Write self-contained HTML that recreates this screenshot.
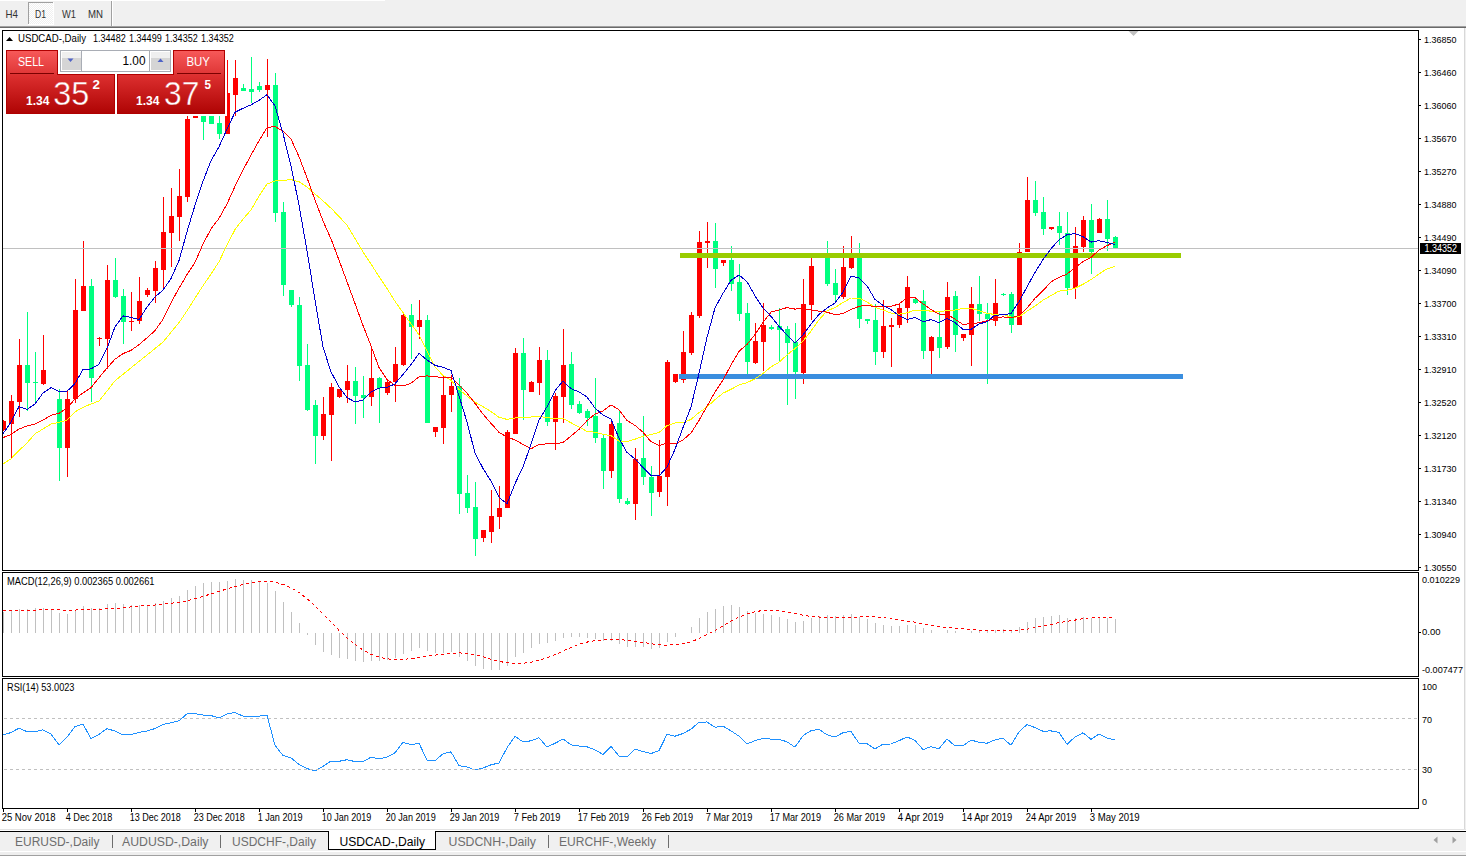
<!DOCTYPE html>
<html><head><meta charset="utf-8"><title>USDCAD Daily</title>
<style>html,body{margin:0;padding:0;background:#F0F0F0;width:1466px;height:858px;overflow:hidden;font-family:"Liberation Sans", sans-serif;}</style>
</head><body><svg width="1466" height="858" viewBox="0 0 1466 858" font-family='"Liberation Sans", sans-serif' style="display:block"><rect x="0" y="0" width="1466" height="858" fill="#F0F0F0" /><rect x="0" y="0" width="385" height="1" fill="#FFFFFF" /><defs><pattern id="chk" width="2" height="2" patternUnits="userSpaceOnUse"><rect width="2" height="2" fill="#F0F0F0"/><rect width="1" height="1" fill="#FFFFFF"/><rect x="1" y="1" width="1" height="1" fill="#FFFFFF"/></pattern><linearGradient id="sellTop" x1="0" y1="0" x2="0" y2="1"><stop offset="0" stop-color="#F85555"/><stop offset="1" stop-color="#E02A2A"/></linearGradient><linearGradient id="sellBot" x1="0" y1="0" x2="0" y2="1"><stop offset="0" stop-color="#DA2A2A"/><stop offset="1" stop-color="#B00000"/></linearGradient><linearGradient id="spin" x1="0" y1="0" x2="0" y2="1"><stop offset="0" stop-color="#F2F2F2"/><stop offset="0.5" stop-color="#E6E6E6"/><stop offset="0.5" stop-color="#D8D8D8"/><stop offset="1" stop-color="#CFCFCF"/></linearGradient></defs><rect x="28" y="2" width="26" height="23" fill="#FFFFFF" /><rect x="29" y="3" width="24" height="21" fill="url(#chk)" /><rect x="28" y="2" width="25" height="1" fill="#A0A0A0" /><rect x="28" y="2" width="1" height="22" fill="#A0A0A0" /><text x="5.5" y="18" font-size="10.2" fill="#333" textLength="12.5" lengthAdjust="spacingAndGlyphs" >H4</text><text x="35" y="18" font-size="10.2" fill="#333" textLength="11" lengthAdjust="spacingAndGlyphs" >D1</text><text x="62" y="18" font-size="10.2" fill="#333" textLength="14" lengthAdjust="spacingAndGlyphs" >W1</text><text x="88" y="18" font-size="10.2" fill="#333" textLength="15" lengthAdjust="spacingAndGlyphs" >MN</text><rect x="111" y="1" width="1" height="25" fill="#A0A0A0" /><rect x="112" y="1" width="1" height="25" fill="#FFFFFF" /><rect x="0" y="26" width="1466" height="1" fill="#A0A0A0" /><rect x="0" y="27" width="1466" height="1" fill="#696969" /><rect x="0" y="28" width="1464" height="801" fill="#FFFFFF" /><rect x="1464" y="28" width="1" height="801" fill="#D8D8D8" /><rect x="0" y="829" width="1466" height="1" fill="#E3E3E3" /><rect x="0" y="830" width="1466" height="1" fill="#FFFFFF" /><rect x="2" y="30" width="1417" height="1" fill="#000" /><rect x="2" y="570" width="1417" height="1" fill="#000" /><rect x="2" y="30" width="1" height="541" fill="#000" /><rect x="1418" y="30" width="1" height="541" fill="#000" /><rect x="2" y="572" width="1417" height="1" fill="#000" /><rect x="2" y="676" width="1417" height="1" fill="#000" /><rect x="2" y="572" width="1" height="105" fill="#000" /><rect x="1418" y="572" width="1" height="105" fill="#000" /><rect x="2" y="678" width="1417" height="1" fill="#000" /><rect x="2" y="808" width="1417" height="1" fill="#000" /><rect x="2" y="678" width="1" height="131" fill="#000" /><rect x="1418" y="678" width="1" height="131" fill="#000" /><rect x="1419" y="39" width="2" height="1" fill="#000" /><text x="1424" y="43" font-size="9.6" fill="#000" textLength="32.5" lengthAdjust="spacingAndGlyphs" >1.36850</text><rect x="1419" y="72" width="2" height="1" fill="#000" /><text x="1424" y="76" font-size="9.6" fill="#000" textLength="32.5" lengthAdjust="spacingAndGlyphs" >1.36460</text><rect x="1419" y="105" width="2" height="1" fill="#000" /><text x="1424" y="109" font-size="9.6" fill="#000" textLength="32.5" lengthAdjust="spacingAndGlyphs" >1.36060</text><rect x="1419" y="138" width="2" height="1" fill="#000" /><text x="1424" y="142" font-size="9.6" fill="#000" textLength="32.5" lengthAdjust="spacingAndGlyphs" >1.35670</text><rect x="1419" y="171" width="2" height="1" fill="#000" /><text x="1424" y="175" font-size="9.6" fill="#000" textLength="32.5" lengthAdjust="spacingAndGlyphs" >1.35270</text><rect x="1419" y="204" width="2" height="1" fill="#000" /><text x="1424" y="208" font-size="9.6" fill="#000" textLength="32.5" lengthAdjust="spacingAndGlyphs" >1.34880</text><rect x="1419" y="237" width="2" height="1" fill="#000" /><text x="1424" y="241" font-size="9.6" fill="#000" textLength="32.5" lengthAdjust="spacingAndGlyphs" >1.34490</text><rect x="1419" y="270" width="2" height="1" fill="#000" /><text x="1424" y="274" font-size="9.6" fill="#000" textLength="32.5" lengthAdjust="spacingAndGlyphs" >1.34090</text><rect x="1419" y="303" width="2" height="1" fill="#000" /><text x="1424" y="307" font-size="9.6" fill="#000" textLength="32.5" lengthAdjust="spacingAndGlyphs" >1.33700</text><rect x="1419" y="336" width="2" height="1" fill="#000" /><text x="1424" y="340" font-size="9.6" fill="#000" textLength="32.5" lengthAdjust="spacingAndGlyphs" >1.33310</text><rect x="1419" y="369" width="2" height="1" fill="#000" /><text x="1424" y="373" font-size="9.6" fill="#000" textLength="32.5" lengthAdjust="spacingAndGlyphs" >1.32910</text><rect x="1419" y="402" width="2" height="1" fill="#000" /><text x="1424" y="406" font-size="9.6" fill="#000" textLength="32.5" lengthAdjust="spacingAndGlyphs" >1.32520</text><rect x="1419" y="435" width="2" height="1" fill="#000" /><text x="1424" y="439" font-size="9.6" fill="#000" textLength="32.5" lengthAdjust="spacingAndGlyphs" >1.32120</text><rect x="1419" y="468" width="2" height="1" fill="#000" /><text x="1424" y="472" font-size="9.6" fill="#000" textLength="32.5" lengthAdjust="spacingAndGlyphs" >1.31730</text><rect x="1419" y="501" width="2" height="1" fill="#000" /><text x="1424" y="505" font-size="9.6" fill="#000" textLength="32.5" lengthAdjust="spacingAndGlyphs" >1.31340</text><rect x="1419" y="534" width="2" height="1" fill="#000" /><text x="1424" y="538" font-size="9.6" fill="#000" textLength="32.5" lengthAdjust="spacingAndGlyphs" >1.30940</text><rect x="1419" y="567" width="2" height="1" fill="#000" /><text x="1424" y="571" font-size="9.6" fill="#000" textLength="32.5" lengthAdjust="spacingAndGlyphs" >1.30550</text><defs><clipPath id="cmain"><rect x="3" y="31" width="1415" height="539"/></clipPath><clipPath id="cmacd"><rect x="3" y="573" width="1415" height="103"/></clipPath><clipPath id="crsi"><rect x="3" y="679" width="1415" height="129"/></clipPath></defs><g clip-path="url(#cmain)"><g shape-rendering="crispEdges"><rect x="3" y="420" width="1" height="11" fill="#FF0000" /><rect x="1" y="421" width="5" height="9" fill="#FF0000" /><rect x="11" y="395" width="1" height="63" fill="#FF0000" /><rect x="9" y="401" width="5" height="23" fill="#FF0000" /><rect x="19" y="339" width="1" height="78" fill="#FF0000" /><rect x="17" y="365" width="5" height="37" fill="#FF0000" /><rect x="27" y="312" width="1" height="99" fill="#00FF7F" /><rect x="25" y="365" width="5" height="18" fill="#00FF7F" /><rect x="35" y="352" width="1" height="50" fill="#00FF7F" /><rect x="33" y="382" width="5" height="1" fill="#00FF7F" /><rect x="43" y="335" width="1" height="50" fill="#FF0000" /><rect x="41" y="370" width="5" height="14" fill="#FF0000" /><rect x="59" y="389" width="1" height="92" fill="#00FF7F" /><rect x="57" y="399" width="5" height="49" fill="#00FF7F" /><rect x="67" y="391" width="1" height="86" fill="#FF0000" /><rect x="65" y="399" width="5" height="49" fill="#FF0000" /><rect x="75" y="279" width="1" height="124" fill="#FF0000" /><rect x="73" y="310" width="5" height="89" fill="#FF0000" /><rect x="83" y="241" width="1" height="70" fill="#FF0000" /><rect x="81" y="286" width="5" height="25" fill="#FF0000" /><rect x="91" y="279" width="1" height="123" fill="#00FF7F" /><rect x="89" y="286" width="5" height="92" fill="#00FF7F" /><rect x="99" y="337" width="1" height="9" fill="#FF0000" /><rect x="97" y="338" width="5" height="1" fill="#FF0000" /><rect x="107" y="265" width="1" height="104" fill="#FF0000" /><rect x="105" y="280" width="5" height="59" fill="#FF0000" /><rect x="115" y="258" width="1" height="40" fill="#00FF7F" /><rect x="113" y="280" width="5" height="17" fill="#00FF7F" /><rect x="123" y="289" width="1" height="55" fill="#00FF7F" /><rect x="121" y="296" width="5" height="26" fill="#00FF7F" /><rect x="131" y="292" width="1" height="39" fill="#FF0000" /><rect x="129" y="321" width="5" height="1" fill="#FF0000" /><rect x="139" y="277" width="1" height="47" fill="#FF0000" /><rect x="137" y="301" width="5" height="20" fill="#FF0000" /><rect x="147" y="288" width="1" height="9" fill="#FF0000" /><rect x="145" y="290" width="5" height="5" fill="#FF0000" /><rect x="155" y="261" width="1" height="42" fill="#FF0000" /><rect x="153" y="268" width="5" height="23" fill="#FF0000" /><rect x="163" y="197" width="1" height="91" fill="#FF0000" /><rect x="161" y="232" width="5" height="38" fill="#FF0000" /><rect x="171" y="188" width="1" height="79" fill="#FF0000" /><rect x="169" y="216" width="5" height="17" fill="#FF0000" /><rect x="179" y="169" width="1" height="72" fill="#FF0000" /><rect x="177" y="196" width="5" height="21" fill="#FF0000" /><rect x="187" y="116" width="1" height="86" fill="#FF0000" /><rect x="185" y="119" width="5" height="78" fill="#FF0000" /><rect x="195" y="110" width="1" height="8" fill="#FF0000" /><rect x="193" y="116" width="5" height="2" fill="#FF0000" /><rect x="203" y="105" width="1" height="35" fill="#00FF7F" /><rect x="201" y="116" width="5" height="6" fill="#00FF7F" /><rect x="211" y="105" width="1" height="19" fill="#00FF7F" /><rect x="209" y="116" width="5" height="8" fill="#00FF7F" /><rect x="219" y="116" width="1" height="23" fill="#00FF7F" /><rect x="217" y="123" width="5" height="11" fill="#00FF7F" /><rect x="227" y="60" width="1" height="74" fill="#FF0000" /><rect x="225" y="93" width="5" height="41" fill="#FF0000" /><rect x="235" y="60" width="1" height="56" fill="#FF0000" /><rect x="233" y="78" width="5" height="17" fill="#FF0000" /><rect x="243" y="84" width="1" height="7" fill="#00FF7F" /><rect x="241" y="88" width="5" height="3" fill="#00FF7F" /><rect x="251" y="57" width="1" height="46" fill="#00FF7F" /><rect x="249" y="89" width="5" height="3" fill="#00FF7F" /><rect x="259" y="82" width="1" height="10" fill="#00FF7F" /><rect x="257" y="86" width="5" height="4" fill="#00FF7F" /><rect x="267" y="59" width="1" height="78" fill="#FF0000" /><rect x="265" y="85" width="5" height="5" fill="#FF0000" /><rect x="275" y="73" width="1" height="149" fill="#00FF7F" /><rect x="273" y="85" width="5" height="128" fill="#00FF7F" /><rect x="283" y="202" width="1" height="94" fill="#00FF7F" /><rect x="281" y="212" width="5" height="73" fill="#00FF7F" /><rect x="291" y="290" width="1" height="17" fill="#00FF7F" /><rect x="289" y="290" width="5" height="15" fill="#00FF7F" /><rect x="299" y="297" width="1" height="84" fill="#00FF7F" /><rect x="297" y="305" width="5" height="61" fill="#00FF7F" /><rect x="307" y="344" width="1" height="67" fill="#00FF7F" /><rect x="305" y="365" width="5" height="45" fill="#00FF7F" /><rect x="315" y="400" width="1" height="64" fill="#00FF7F" /><rect x="313" y="405" width="5" height="31" fill="#00FF7F" /><rect x="323" y="397" width="1" height="43" fill="#FF0000" /><rect x="321" y="414" width="5" height="22" fill="#FF0000" /><rect x="331" y="383" width="1" height="78" fill="#FF0000" /><rect x="329" y="387" width="5" height="28" fill="#FF0000" /><rect x="339" y="389" width="1" height="9" fill="#FF0000" /><rect x="337" y="389" width="5" height="8" fill="#FF0000" /><rect x="347" y="365" width="1" height="38" fill="#FF0000" /><rect x="345" y="381" width="5" height="9" fill="#FF0000" /><rect x="355" y="367" width="1" height="57" fill="#00FF7F" /><rect x="353" y="381" width="5" height="15" fill="#00FF7F" /><rect x="363" y="376" width="1" height="42" fill="#00FF7F" /><rect x="361" y="395" width="5" height="3" fill="#00FF7F" /><rect x="371" y="346" width="1" height="60" fill="#FF0000" /><rect x="369" y="378" width="5" height="19" fill="#FF0000" /><rect x="379" y="377" width="1" height="46" fill="#00FF7F" /><rect x="377" y="378" width="5" height="10" fill="#00FF7F" /><rect x="387" y="381" width="1" height="14" fill="#FF0000" /><rect x="385" y="382" width="5" height="11" fill="#FF0000" /><rect x="395" y="347" width="1" height="55" fill="#FF0000" /><rect x="393" y="364" width="5" height="18" fill="#FF0000" /><rect x="403" y="312" width="1" height="54" fill="#FF0000" /><rect x="401" y="315" width="5" height="50" fill="#FF0000" /><rect x="411" y="304" width="1" height="55" fill="#00FF7F" /><rect x="409" y="315" width="5" height="12" fill="#00FF7F" /><rect x="419" y="300" width="1" height="39" fill="#FF0000" /><rect x="417" y="320" width="5" height="7" fill="#FF0000" /><rect x="427" y="315" width="1" height="108" fill="#00FF7F" /><rect x="425" y="320" width="5" height="103" fill="#00FF7F" /><rect x="435" y="427" width="1" height="10" fill="#FF0000" /><rect x="433" y="427" width="5" height="5" fill="#FF0000" /><rect x="443" y="375" width="1" height="69" fill="#FF0000" /><rect x="441" y="395" width="5" height="33" fill="#FF0000" /><rect x="451" y="375" width="1" height="37" fill="#FF0000" /><rect x="449" y="386" width="5" height="9" fill="#FF0000" /><rect x="459" y="378" width="1" height="136" fill="#00FF7F" /><rect x="457" y="386" width="5" height="108" fill="#00FF7F" /><rect x="467" y="475" width="1" height="38" fill="#00FF7F" /><rect x="465" y="493" width="5" height="15" fill="#00FF7F" /><rect x="475" y="482" width="1" height="74" fill="#00FF7F" /><rect x="473" y="507" width="5" height="32" fill="#00FF7F" /><rect x="483" y="530" width="1" height="12" fill="#FF0000" /><rect x="481" y="530" width="5" height="8" fill="#FF0000" /><rect x="491" y="490" width="1" height="53" fill="#FF0000" /><rect x="489" y="516" width="5" height="16" fill="#FF0000" /><rect x="499" y="486" width="1" height="43" fill="#FF0000" /><rect x="497" y="508" width="5" height="9" fill="#FF0000" /><rect x="507" y="430" width="1" height="78" fill="#FF0000" /><rect x="505" y="432" width="5" height="76" fill="#FF0000" /><rect x="515" y="348" width="1" height="86" fill="#FF0000" /><rect x="513" y="353" width="5" height="81" fill="#FF0000" /><rect x="523" y="338" width="1" height="82" fill="#00FF7F" /><rect x="521" y="353" width="5" height="37" fill="#00FF7F" /><rect x="531" y="381" width="1" height="11" fill="#FF0000" /><rect x="529" y="382" width="5" height="10" fill="#FF0000" /><rect x="539" y="347" width="1" height="48" fill="#FF0000" /><rect x="537" y="360" width="5" height="23" fill="#FF0000" /><rect x="547" y="350" width="1" height="76" fill="#00FF7F" /><rect x="545" y="360" width="5" height="62" fill="#00FF7F" /><rect x="555" y="393" width="1" height="57" fill="#FF0000" /><rect x="553" y="396" width="5" height="26" fill="#FF0000" /><rect x="563" y="329" width="1" height="94" fill="#FF0000" /><rect x="561" y="365" width="5" height="32" fill="#FF0000" /><rect x="571" y="352" width="1" height="57" fill="#00FF7F" /><rect x="569" y="364" width="5" height="41" fill="#00FF7F" /><rect x="579" y="401" width="1" height="13" fill="#00FF7F" /><rect x="577" y="404" width="5" height="9" fill="#00FF7F" /><rect x="587" y="409" width="1" height="17" fill="#00FF7F" /><rect x="585" y="411" width="5" height="7" fill="#00FF7F" /><rect x="595" y="378" width="1" height="65" fill="#00FF7F" /><rect x="593" y="416" width="5" height="22" fill="#00FF7F" /><rect x="603" y="435" width="1" height="54" fill="#00FF7F" /><rect x="601" y="438" width="5" height="33" fill="#00FF7F" /><rect x="611" y="419" width="1" height="59" fill="#FF0000" /><rect x="609" y="424" width="5" height="47" fill="#FF0000" /><rect x="619" y="411" width="1" height="92" fill="#00FF7F" /><rect x="617" y="423" width="5" height="76" fill="#00FF7F" /><rect x="627" y="498" width="1" height="7" fill="#00FF7F" /><rect x="625" y="501" width="5" height="3" fill="#00FF7F" /><rect x="635" y="448" width="1" height="72" fill="#FF0000" /><rect x="633" y="459" width="5" height="45" fill="#FF0000" /><rect x="643" y="416" width="1" height="69" fill="#00FF7F" /><rect x="641" y="458" width="5" height="19" fill="#00FF7F" /><rect x="651" y="466" width="1" height="50" fill="#00FF7F" /><rect x="649" y="477" width="5" height="16" fill="#00FF7F" /><rect x="659" y="440" width="1" height="57" fill="#FF0000" /><rect x="657" y="476" width="5" height="16" fill="#FF0000" /><rect x="667" y="360" width="1" height="146" fill="#FF0000" /><rect x="665" y="362" width="5" height="115" fill="#FF0000" /><rect x="675" y="374" width="1" height="9" fill="#FF0000" /><rect x="673" y="374" width="5" height="8" fill="#FF0000" /><rect x="683" y="331" width="1" height="52" fill="#FF0000" /><rect x="681" y="352" width="5" height="28" fill="#FF0000" /><rect x="691" y="312" width="1" height="43" fill="#FF0000" /><rect x="689" y="315" width="5" height="38" fill="#FF0000" /><rect x="699" y="231" width="1" height="87" fill="#FF0000" /><rect x="697" y="242" width="5" height="74" fill="#FF0000" /><rect x="707" y="222" width="1" height="46" fill="#FF0000" /><rect x="705" y="241" width="5" height="2" fill="#FF0000" /><rect x="715" y="223" width="1" height="65" fill="#00FF7F" /><rect x="713" y="241" width="5" height="28" fill="#00FF7F" /><rect x="723" y="260" width="1" height="6" fill="#FF0000" /><rect x="721" y="260" width="5" height="3" fill="#FF0000" /><rect x="731" y="246" width="1" height="45" fill="#00FF7F" /><rect x="729" y="260" width="5" height="24" fill="#00FF7F" /><rect x="739" y="264" width="1" height="57" fill="#00FF7F" /><rect x="737" y="282" width="5" height="32" fill="#00FF7F" /><rect x="747" y="303" width="1" height="73" fill="#00FF7F" /><rect x="745" y="313" width="5" height="49" fill="#00FF7F" /><rect x="755" y="323" width="1" height="41" fill="#FF0000" /><rect x="753" y="341" width="5" height="22" fill="#FF0000" /><rect x="763" y="303" width="1" height="68" fill="#FF0000" /><rect x="761" y="325" width="5" height="17" fill="#FF0000" /><rect x="771" y="325" width="1" height="5" fill="#00FF7F" /><rect x="769" y="327" width="5" height="2" fill="#00FF7F" /><rect x="779" y="308" width="1" height="53" fill="#00FF7F" /><rect x="777" y="326" width="5" height="4" fill="#00FF7F" /><rect x="787" y="326" width="1" height="79" fill="#00FF7F" /><rect x="785" y="329" width="5" height="14" fill="#00FF7F" /><rect x="795" y="323" width="1" height="76" fill="#00FF7F" /><rect x="793" y="342" width="5" height="30" fill="#00FF7F" /><rect x="803" y="279" width="1" height="105" fill="#FF0000" /><rect x="801" y="304" width="5" height="69" fill="#FF0000" /><rect x="811" y="258" width="1" height="62" fill="#FF0000" /><rect x="809" y="266" width="5" height="39" fill="#FF0000" /><rect x="819" y="255" width="1" height="3" fill="#00FF7F" /><rect x="817" y="256" width="5" height="1" fill="#00FF7F" /><rect x="827" y="241" width="1" height="45" fill="#00FF7F" /><rect x="825" y="258" width="5" height="26" fill="#00FF7F" /><rect x="835" y="269" width="1" height="32" fill="#00FF7F" /><rect x="833" y="283" width="5" height="12" fill="#00FF7F" /><rect x="843" y="246" width="1" height="53" fill="#FF0000" /><rect x="841" y="267" width="5" height="30" fill="#FF0000" /><rect x="851" y="236" width="1" height="33" fill="#FF0000" /><rect x="849" y="258" width="5" height="10" fill="#FF0000" /><rect x="859" y="243" width="1" height="85" fill="#00FF7F" /><rect x="857" y="258" width="5" height="61" fill="#00FF7F" /><rect x="867" y="319" width="1" height="5" fill="#00FF7F" /><rect x="865" y="319" width="5" height="2" fill="#00FF7F" /><rect x="875" y="304" width="1" height="61" fill="#00FF7F" /><rect x="873" y="320" width="5" height="32" fill="#00FF7F" /><rect x="883" y="300" width="1" height="58" fill="#FF0000" /><rect x="881" y="326" width="5" height="26" fill="#FF0000" /><rect x="891" y="318" width="1" height="49" fill="#FF0000" /><rect x="889" y="325" width="5" height="2" fill="#FF0000" /><rect x="899" y="304" width="1" height="24" fill="#FF0000" /><rect x="897" y="308" width="5" height="17" fill="#FF0000" /><rect x="907" y="276" width="1" height="47" fill="#FF0000" /><rect x="905" y="287" width="5" height="21" fill="#FF0000" /><rect x="915" y="297" width="1" height="7" fill="#00FF7F" /><rect x="913" y="299" width="5" height="4" fill="#00FF7F" /><rect x="923" y="290" width="1" height="69" fill="#00FF7F" /><rect x="921" y="301" width="5" height="50" fill="#00FF7F" /><rect x="931" y="336" width="1" height="38" fill="#FF0000" /><rect x="929" y="337" width="5" height="14" fill="#FF0000" /><rect x="939" y="312" width="1" height="46" fill="#00FF7F" /><rect x="937" y="337" width="5" height="11" fill="#00FF7F" /><rect x="947" y="282" width="1" height="67" fill="#FF0000" /><rect x="945" y="297" width="5" height="50" fill="#FF0000" /><rect x="955" y="291" width="1" height="61" fill="#00FF7F" /><rect x="953" y="296" width="5" height="39" fill="#00FF7F" /><rect x="963" y="334" width="1" height="7" fill="#FF0000" /><rect x="961" y="334" width="5" height="4" fill="#FF0000" /><rect x="971" y="287" width="1" height="79" fill="#FF0000" /><rect x="969" y="304" width="5" height="31" fill="#FF0000" /><rect x="979" y="276" width="1" height="45" fill="#00FF7F" /><rect x="977" y="304" width="5" height="10" fill="#00FF7F" /><rect x="987" y="303" width="1" height="81" fill="#00FF7F" /><rect x="985" y="314" width="5" height="5" fill="#00FF7F" /><rect x="995" y="279" width="1" height="47" fill="#FF0000" /><rect x="993" y="303" width="5" height="18" fill="#FF0000" /><rect x="1003" y="293" width="1" height="3" fill="#00FF7F" /><rect x="1001" y="294" width="5" height="1" fill="#00FF7F" /><rect x="1011" y="292" width="1" height="41" fill="#00FF7F" /><rect x="1009" y="294" width="5" height="31" fill="#00FF7F" /><rect x="1019" y="243" width="1" height="82" fill="#FF0000" /><rect x="1017" y="252" width="5" height="73" fill="#FF0000" /><rect x="1027" y="177" width="1" height="75" fill="#FF0000" /><rect x="1025" y="200" width="5" height="52" fill="#FF0000" /><rect x="1035" y="181" width="1" height="35" fill="#00FF7F" /><rect x="1033" y="200" width="5" height="13" fill="#00FF7F" /><rect x="1043" y="197" width="1" height="38" fill="#00FF7F" /><rect x="1041" y="212" width="5" height="17" fill="#00FF7F" /><rect x="1051" y="227" width="1" height="3" fill="#FF0000" /><rect x="1049" y="227" width="5" height="2" fill="#FF0000" /><rect x="1059" y="212" width="1" height="33" fill="#00FF7F" /><rect x="1057" y="226" width="5" height="7" fill="#00FF7F" /><rect x="1067" y="212" width="1" height="83" fill="#00FF7F" /><rect x="1065" y="233" width="5" height="55" fill="#00FF7F" /><rect x="1075" y="227" width="1" height="72" fill="#FF0000" /><rect x="1073" y="246" width="5" height="42" fill="#FF0000" /><rect x="1083" y="216" width="1" height="36" fill="#FF0000" /><rect x="1081" y="220" width="5" height="27" fill="#FF0000" /><rect x="1091" y="204" width="1" height="70" fill="#00FF7F" /><rect x="1089" y="220" width="5" height="32" fill="#00FF7F" /><rect x="1099" y="218" width="1" height="15" fill="#FF0000" /><rect x="1097" y="219" width="5" height="14" fill="#FF0000" /><rect x="1107" y="200" width="1" height="51" fill="#00FF7F" /><rect x="1105" y="219" width="5" height="20" fill="#00FF7F" /><rect x="1115" y="236" width="1" height="13" fill="#00FF7F" /><rect x="1113" y="237" width="5" height="12" fill="#00FF7F" /></g><rect x="3" y="248" width="1415" height="1" fill="#C0C0C0" /><rect x="680" y="253" width="501" height="5" fill="#99CC00" /><rect x="679" y="374" width="504" height="5" fill="#3A8EDF" /><polyline points="3,464.0 11,458.8 19,450.5 27,443.0 35,433.8 43,429.0 51,424.0 59,422.4 67,420.0 75,411.8 83,407.3 91,404.0 99,401.0 107,391.0 115,380.8 123,374.3 131,367.9 139,361.4 147,355.0 155,348.5 163,342.1 171,332.3 179,322.6 187,310.9 195,298.1 203,285.7 211,274.0 219,261.8 227,244.9 235,229.6 243,219.1 251,209.9 259,196.2 267,184.1 275,181.0 283,180.4 291,179.6 299,181.7 307,186.9 315,193.9 323,200.8 331,208.2 339,216.4 347,225.2 355,238.4 363,251.9 371,264.0 379,276.6 387,288.4 395,301.3 403,312.6 411,323.9 419,334.7 427,350.6 435,366.9 443,375.5 451,380.3 459,389.3 467,396.1 475,402.2 483,406.7 491,411.6 499,417.3 507,419.4 515,418.0 523,417.8 531,417.0 539,416.1 547,417.8 555,418.4 563,418.5 571,422.8 579,426.9 587,431.5 595,432.2 603,434.3 611,435.7 619,441.1 627,441.6 635,439.2 643,436.3 651,434.5 659,432.6 667,425.7 675,422.9 683,422.9 691,419.3 699,412.6 707,407.0 715,399.7 723,393.2 731,389.3 739,385.0 747,382.6 755,378.9 763,373.5 771,366.8 779,362.3 787,354.9 795,348.6 803,341.2 811,331.1 819,319.9 827,310.8 835,307.6 843,302.5 851,298.0 859,298.2 867,302.0 875,307.2 883,310.0 891,313.0 899,314.2 907,312.9 915,310.1 923,310.6 931,311.1 939,312.0 947,310.5 955,310.1 963,308.3 971,308.3 979,310.6 987,313.5 995,314.4 1003,314.4 1011,317.2 1019,316.9 1027,311.2 1035,306.1 1043,300.2 1051,295.5 1059,291.1 1067,290.2 1075,288.2 1083,284.3 1091,279.6 1099,274.0 1107,268.8 1115,266.5" fill="none" stroke="#FFFF00" stroke-width="1" shape-rendering="crispEdges"/><polyline points="3,437.6 11,434.5 19,429.0 27,426.0 35,424.0 43,420.0 51,415.3 59,413.3 67,408.0 75,399.0 83,393.0 91,387.6 99,377.7 107,368.1 115,359.2 123,353.6 131,350.4 139,344.6 147,337.9 155,330.6 163,319.3 171,302.7 179,288.2 187,274.6 195,262.4 203,244.1 211,228.9 219,218.4 227,203.9 235,186.4 243,170.0 251,155.1 259,140.8 267,127.7 275,126.4 283,131.3 291,139.1 299,156.7 307,177.7 315,200.1 323,220.9 331,238.9 339,260.1 347,281.7 355,303.5 363,325.4 371,345.9 379,367.6 387,379.6 395,385.3 403,386.0 411,383.2 419,376.8 427,375.9 435,376.8 443,377.4 451,377.1 459,385.2 467,393.2 475,403.3 483,414.1 491,423.3 499,432.3 507,437.1 515,439.9 523,444.4 531,448.8 539,444.3 547,443.9 555,444.0 563,442.5 571,436.1 579,429.4 587,420.7 595,414.1 603,410.9 611,404.9 619,409.7 627,420.5 635,425.4 643,432.2 651,441.7 659,445.6 667,443.1 675,443.8 683,440.0 691,433.0 699,420.4 707,406.4 715,391.9 723,380.2 731,364.9 739,351.3 747,344.4 755,334.6 763,322.6 771,312.1 779,309.9 787,307.6 795,309.1 803,308.3 811,310.0 819,311.1 827,312.2 835,314.7 843,313.5 851,309.5 859,306.4 867,305.0 875,306.9 883,306.7 891,306.4 899,303.9 907,297.8 915,297.7 923,303.8 931,309.5 939,314.1 947,314.2 955,319.1 963,324.5 971,323.4 979,322.9 987,320.6 995,318.9 1003,316.8 1011,318.0 1019,315.5 1027,308.1 1035,298.3 1043,290.6 1051,281.9 1059,277.4 1067,274.0 1075,267.7 1083,261.7 1091,257.3 1099,250.1 1107,245.6 1115,242.3" fill="none" stroke="#FF0000" stroke-width="1" shape-rendering="crispEdges"/><polyline points="3,433.8 11,422.0 19,406.5 27,409.5 35,404.0 43,393.0 51,387.7 59,391.6 67,391.3 75,383.4 83,369.6 91,368.9 99,364.3 107,348.4 115,326.9 123,315.9 131,317.4 139,319.6 147,307.0 155,297.0 163,290.1 171,278.6 179,260.6 187,231.7 195,205.3 203,181.3 211,160.7 219,146.7 227,129.1 235,112.3 243,108.3 251,104.9 259,100.3 267,94.7 275,106.0 283,133.4 291,165.9 299,205.1 307,250.6 315,300.0 323,347.0 331,371.9 339,386.7 347,397.6 355,401.9 363,400.1 371,391.9 379,388.1 387,387.4 395,383.9 403,374.4 411,364.6 419,353.4 427,359.9 435,365.4 443,367.3 451,370.4 459,396.0 467,421.9 475,453.1 483,468.4 491,481.1 499,497.3 507,503.9 515,483.7 523,466.9 531,444.4 539,420.1 547,406.7 555,390.7 563,381.1 571,388.6 579,391.9 587,397.0 595,408.1 603,415.1 611,419.1 619,438.3 627,452.4 635,459.0 643,467.4 651,475.3 659,476.0 667,467.1 675,449.3 683,427.6 691,407.0 699,373.4 707,337.4 715,307.9 723,293.3 731,280.4 739,275.0 747,281.7 755,295.9 763,307.9 771,316.4 779,326.4 787,334.9 795,343.1 803,334.9 811,324.1 819,314.4 827,308.0 835,303.0 843,292.1 851,275.9 859,278.0 867,285.9 875,299.4 883,305.4 891,309.7 899,315.6 907,319.7 915,317.4 923,321.7 931,319.6 939,322.7 947,318.7 955,322.6 963,329.3 971,329.4 979,324.1 987,321.6 995,315.1 1003,314.9 1011,313.4 1019,301.7 1027,286.9 1035,272.4 1043,259.6 1051,248.7 1059,239.9 1067,234.6 1075,233.7 1083,236.6 1091,242.1 1099,240.7 1107,242.4 1115,244.7" fill="none" stroke="#0000CD" stroke-width="1" shape-rendering="crispEdges"/></g><rect x="1420" y="243" width="41" height="11" fill="#000" /><text x="1424.5" y="252" font-size="10" fill="#FFF" textLength="32.5" lengthAdjust="spacingAndGlyphs" >1.34352</text><polygon points="1128.5,31 1138.5,31 1133.5,36" fill="#C0C0C0"/><polygon points="6,41 13,41 9.5,37" fill="#000"/><text x="18" y="42" font-size="10.2" fill="#000" textLength="68" lengthAdjust="spacingAndGlyphs" >USDCAD-,Daily</text><text x="93.0" y="42" font-size="10.2" fill="#000" textLength="32.7" lengthAdjust="spacingAndGlyphs" >1.34482</text><text x="129.03" y="42" font-size="10.2" fill="#000" textLength="32.7" lengthAdjust="spacingAndGlyphs" >1.34499</text><text x="165.06" y="42" font-size="10.2" fill="#000" textLength="32.7" lengthAdjust="spacingAndGlyphs" >1.34352</text><text x="201.09" y="42" font-size="10.2" fill="#000" textLength="32.7" lengthAdjust="spacingAndGlyphs" >1.34352</text><defs><linearGradient id="pgrad" gradientUnits="userSpaceOnUse" x1="0" y1="50" x2="0" y2="114"><stop offset="0" stop-color="#F85A5A"/><stop offset="0.36" stop-color="#E03838"/><stop offset="0.40" stop-color="#DC2F2F"/><stop offset="1" stop-color="#AE0303"/></linearGradient></defs><rect x="4" y="48" width="223" height="68" fill="#FFFFFF" /><g shape-rendering="crispEdges"><path d="M6,50 H58 V74 H115 V114 H6 Z" fill="url(#pgrad)"/><rect x="6" y="50" width="52" height="1" fill="#B00000" /><rect x="6" y="50" width="1" height="64" fill="#B00000" /><rect x="57" y="50" width="1" height="25" fill="#B00000" /><rect x="57" y="74" width="58" height="1" fill="#B00000" /><rect x="114" y="74" width="1" height="40" fill="#B00000" /><rect x="6" y="113" width="109" height="1" fill="#B00000" /><path d="M173,50 H225 V114 H117 V74 H173 Z" fill="url(#pgrad)"/><rect x="173" y="50" width="52" height="1" fill="#B00000" /><rect x="173" y="50" width="1" height="25" fill="#B00000" /><rect x="117" y="74" width="57" height="1" fill="#B00000" /><rect x="117" y="74" width="1" height="40" fill="#B00000" /><rect x="224" y="50" width="1" height="64" fill="#B00000" /><rect x="117" y="113" width="108" height="1" fill="#B00000" /><rect x="10" y="73" width="44" height="1" fill="#7A0000" /><rect x="177" y="73" width="44" height="1" fill="#7A0000" /><rect x="60" y="50" width="111" height="22" fill="#A9ADB5" /><rect x="61" y="51" width="109" height="20" fill="#FFFFFF" /><rect x="81" y="50" width="1" height="22" fill="#A9ADB5" /><rect x="149" y="50" width="1" height="22" fill="#A9ADB5" /><rect x="62" y="52" width="19" height="6" fill="#EFEFEF" /><rect x="62" y="58" width="19" height="12" fill="#D5D5D5" /><rect x="151" y="52" width="19" height="6" fill="#EFEFEF" /><rect x="151" y="58" width="19" height="12" fill="#D5D5D5" /></g><polygon points="67.5,58.5 73.5,58.5 70.5,62" fill="#4F63C6"/><polygon points="157.5,62 163.5,62 160.5,58.5" fill="#4F63C6"/><text x="18" y="66" font-size="12" fill="#FFF" textLength="26" lengthAdjust="spacingAndGlyphs" >SELL</text><text x="186.5" y="66" font-size="12" fill="#FFF" textLength="23.5" lengthAdjust="spacingAndGlyphs" >BUY</text><text x="122.5" y="65" font-size="12" fill="#000" textLength="23" lengthAdjust="spacingAndGlyphs" >1.00</text><text x="26" y="105" font-size="12" fill="#FFF" textLength="23.5" lengthAdjust="spacingAndGlyphs" font-weight="bold" >1.34</text><text x="53.3" y="105" font-size="34" fill="#FFF" textLength="36" lengthAdjust="spacingAndGlyphs" stroke="url(#pgrad)" stroke-width="0.4">35</text><text x="92.5" y="89" font-size="12" fill="#FFF" textLength="7.5" lengthAdjust="spacingAndGlyphs" font-weight="bold" >2</text><text x="136" y="105" font-size="12" fill="#FFF" textLength="23.5" lengthAdjust="spacingAndGlyphs" font-weight="bold" >1.34</text><text x="164" y="105" font-size="34" fill="#FFF" textLength="35.3" lengthAdjust="spacingAndGlyphs" stroke="url(#pgrad)" stroke-width="0.4">37</text><text x="204.5" y="89" font-size="12" fill="#FFF" textLength="6.5" lengthAdjust="spacingAndGlyphs" font-weight="bold" >5</text><g shape-rendering="crispEdges"><rect x="3" y="612" width="1" height="21" fill="#C0C0C0" /><rect x="11" y="611" width="1" height="22" fill="#C0C0C0" /><rect x="19" y="609" width="1" height="24" fill="#C0C0C0" /><rect x="27" y="609" width="1" height="24" fill="#C0C0C0" /><rect x="35" y="608" width="1" height="25" fill="#C0C0C0" /><rect x="43" y="608" width="1" height="25" fill="#C0C0C0" /><rect x="51" y="609" width="1" height="24" fill="#C0C0C0" /><rect x="59" y="613" width="1" height="20" fill="#C0C0C0" /><rect x="67" y="614" width="1" height="19" fill="#C0C0C0" /><rect x="75" y="610" width="1" height="23" fill="#C0C0C0" /><rect x="83" y="606" width="1" height="27" fill="#C0C0C0" /><rect x="91" y="608" width="1" height="25" fill="#C0C0C0" /><rect x="99" y="608" width="1" height="25" fill="#C0C0C0" /><rect x="107" y="604" width="1" height="29" fill="#C0C0C0" /><rect x="115" y="603" width="1" height="30" fill="#C0C0C0" /><rect x="123" y="604" width="1" height="29" fill="#C0C0C0" /><rect x="131" y="605" width="1" height="28" fill="#C0C0C0" /><rect x="139" y="605" width="1" height="28" fill="#C0C0C0" /><rect x="147" y="605" width="1" height="28" fill="#C0C0C0" /><rect x="155" y="603" width="1" height="30" fill="#C0C0C0" /><rect x="163" y="601" width="1" height="32" fill="#C0C0C0" /><rect x="171" y="598" width="1" height="35" fill="#C0C0C0" /><rect x="179" y="596" width="1" height="37" fill="#C0C0C0" /><rect x="187" y="590" width="1" height="43" fill="#C0C0C0" /><rect x="195" y="586" width="1" height="47" fill="#C0C0C0" /><rect x="203" y="583" width="1" height="50" fill="#C0C0C0" /><rect x="211" y="582" width="1" height="51" fill="#C0C0C0" /><rect x="219" y="582" width="1" height="51" fill="#C0C0C0" /><rect x="227" y="581" width="1" height="52" fill="#C0C0C0" /><rect x="235" y="579" width="1" height="54" fill="#C0C0C0" /><rect x="243" y="580" width="1" height="53" fill="#C0C0C0" /><rect x="251" y="580" width="1" height="53" fill="#C0C0C0" /><rect x="259" y="582" width="1" height="51" fill="#C0C0C0" /><rect x="267" y="583" width="1" height="50" fill="#C0C0C0" /><rect x="275" y="591" width="1" height="42" fill="#C0C0C0" /><rect x="283" y="602" width="1" height="31" fill="#C0C0C0" /><rect x="291" y="612" width="1" height="21" fill="#C0C0C0" /><rect x="299" y="623" width="1" height="10" fill="#C0C0C0" /><rect x="307" y="633" width="1" height="2" fill="#C0C0C0" /><rect x="315" y="633" width="1" height="12" fill="#C0C0C0" /><rect x="323" y="633" width="1" height="19" fill="#C0C0C0" /><rect x="331" y="633" width="1" height="22" fill="#C0C0C0" /><rect x="339" y="633" width="1" height="25" fill="#C0C0C0" /><rect x="347" y="633" width="1" height="26" fill="#C0C0C0" /><rect x="355" y="633" width="1" height="28" fill="#C0C0C0" /><rect x="363" y="633" width="1" height="29" fill="#C0C0C0" /><rect x="371" y="633" width="1" height="28" fill="#C0C0C0" /><rect x="379" y="633" width="1" height="28" fill="#C0C0C0" /><rect x="387" y="633" width="1" height="27" fill="#C0C0C0" /><rect x="395" y="633" width="1" height="25" fill="#C0C0C0" /><rect x="403" y="633" width="1" height="21" fill="#C0C0C0" /><rect x="411" y="633" width="1" height="18" fill="#C0C0C0" /><rect x="419" y="633" width="1" height="15" fill="#C0C0C0" /><rect x="427" y="633" width="1" height="18" fill="#C0C0C0" /><rect x="435" y="633" width="1" height="20" fill="#C0C0C0" /><rect x="443" y="633" width="1" height="20" fill="#C0C0C0" /><rect x="451" y="633" width="1" height="19" fill="#C0C0C0" /><rect x="459" y="633" width="1" height="24" fill="#C0C0C0" /><rect x="467" y="633" width="1" height="28" fill="#C0C0C0" /><rect x="475" y="633" width="1" height="33" fill="#C0C0C0" /><rect x="483" y="633" width="1" height="36" fill="#C0C0C0" /><rect x="491" y="633" width="1" height="37" fill="#C0C0C0" /><rect x="499" y="633" width="1" height="37" fill="#C0C0C0" /><rect x="507" y="633" width="1" height="33" fill="#C0C0C0" /><rect x="515" y="633" width="1" height="24" fill="#C0C0C0" /><rect x="523" y="633" width="1" height="20" fill="#C0C0C0" /><rect x="531" y="633" width="1" height="15" fill="#C0C0C0" /><rect x="539" y="633" width="1" height="11" fill="#C0C0C0" /><rect x="547" y="633" width="1" height="10" fill="#C0C0C0" /><rect x="555" y="633" width="1" height="8" fill="#C0C0C0" /><rect x="563" y="633" width="1" height="5" fill="#C0C0C0" /><rect x="571" y="633" width="1" height="4" fill="#C0C0C0" /><rect x="579" y="633" width="1" height="4" fill="#C0C0C0" /><rect x="587" y="633" width="1" height="5" fill="#C0C0C0" /><rect x="595" y="633" width="1" height="6" fill="#C0C0C0" /><rect x="603" y="633" width="1" height="8" fill="#C0C0C0" /><rect x="611" y="633" width="1" height="8" fill="#C0C0C0" /><rect x="619" y="633" width="1" height="11" fill="#C0C0C0" /><rect x="627" y="633" width="1" height="14" fill="#C0C0C0" /><rect x="635" y="633" width="1" height="14" fill="#C0C0C0" /><rect x="643" y="633" width="1" height="14" fill="#C0C0C0" /><rect x="651" y="633" width="1" height="16" fill="#C0C0C0" /><rect x="659" y="633" width="1" height="15" fill="#C0C0C0" /><rect x="667" y="633" width="1" height="9" fill="#C0C0C0" /><rect x="675" y="633" width="1" height="4" fill="#C0C0C0" /><rect x="691" y="627" width="1" height="6" fill="#C0C0C0" /><rect x="699" y="618" width="1" height="15" fill="#C0C0C0" /><rect x="707" y="612" width="1" height="21" fill="#C0C0C0" /><rect x="715" y="609" width="1" height="24" fill="#C0C0C0" /><rect x="723" y="606" width="1" height="27" fill="#C0C0C0" /><rect x="731" y="605" width="1" height="28" fill="#C0C0C0" /><rect x="739" y="607" width="1" height="26" fill="#C0C0C0" /><rect x="747" y="611" width="1" height="22" fill="#C0C0C0" /><rect x="755" y="613" width="1" height="20" fill="#C0C0C0" /><rect x="763" y="614" width="1" height="19" fill="#C0C0C0" /><rect x="771" y="615" width="1" height="18" fill="#C0C0C0" /><rect x="779" y="617" width="1" height="16" fill="#C0C0C0" /><rect x="787" y="619" width="1" height="14" fill="#C0C0C0" /><rect x="795" y="622" width="1" height="11" fill="#C0C0C0" /><rect x="803" y="621" width="1" height="12" fill="#C0C0C0" /><rect x="811" y="618" width="1" height="15" fill="#C0C0C0" /><rect x="819" y="616" width="1" height="17" fill="#C0C0C0" /><rect x="827" y="615" width="1" height="18" fill="#C0C0C0" /><rect x="835" y="616" width="1" height="17" fill="#C0C0C0" /><rect x="843" y="615" width="1" height="18" fill="#C0C0C0" /><rect x="851" y="614" width="1" height="19" fill="#C0C0C0" /><rect x="859" y="617" width="1" height="16" fill="#C0C0C0" /><rect x="867" y="619" width="1" height="14" fill="#C0C0C0" /><rect x="875" y="623" width="1" height="10" fill="#C0C0C0" /><rect x="883" y="625" width="1" height="8" fill="#C0C0C0" /><rect x="891" y="626" width="1" height="7" fill="#C0C0C0" /><rect x="899" y="626" width="1" height="7" fill="#C0C0C0" /><rect x="907" y="625" width="1" height="8" fill="#C0C0C0" /><rect x="915" y="625" width="1" height="8" fill="#C0C0C0" /><rect x="923" y="628" width="1" height="5" fill="#C0C0C0" /><rect x="931" y="630" width="1" height="3" fill="#C0C0C0" /><rect x="947" y="630" width="1" height="3" fill="#C0C0C0" /><rect x="955" y="631" width="1" height="2" fill="#C0C0C0" /><rect x="971" y="631" width="1" height="2" fill="#C0C0C0" /><rect x="979" y="631" width="1" height="2" fill="#C0C0C0" /><rect x="987" y="631" width="1" height="2" fill="#C0C0C0" /><rect x="995" y="630" width="1" height="3" fill="#C0C0C0" /><rect x="1003" y="629" width="1" height="4" fill="#C0C0C0" /><rect x="1011" y="630" width="1" height="3" fill="#C0C0C0" /><rect x="1019" y="627" width="1" height="6" fill="#C0C0C0" /><rect x="1027" y="622" width="1" height="11" fill="#C0C0C0" /><rect x="1035" y="618" width="1" height="15" fill="#C0C0C0" /><rect x="1043" y="617" width="1" height="16" fill="#C0C0C0" /><rect x="1051" y="616" width="1" height="17" fill="#C0C0C0" /><rect x="1059" y="615" width="1" height="18" fill="#C0C0C0" /><rect x="1067" y="618" width="1" height="15" fill="#C0C0C0" /><rect x="1075" y="618" width="1" height="15" fill="#C0C0C0" /><rect x="1083" y="617" width="1" height="16" fill="#C0C0C0" /><rect x="1091" y="618" width="1" height="15" fill="#C0C0C0" /><rect x="1099" y="617" width="1" height="16" fill="#C0C0C0" /><rect x="1107" y="618" width="1" height="15" fill="#C0C0C0" /><rect x="1115" y="619" width="1" height="14" fill="#C0C0C0" /></g><polyline points="3,610.7 11,610.8 19,610.6 27,610.4 35,610.1 43,609.8 51,609.7 59,609.9 67,610.3 75,610.1 83,609.5 91,609.4 99,609.2 107,608.8 115,608.3 123,607.8 131,606.9 139,605.9 147,605.3 155,605.0 163,604.2 171,603.2 179,602.3 187,600.8 195,598.8 203,596.4 211,593.9 219,591.4 227,588.9 235,586.5 243,584.4 251,582.7 259,581.7 267,581.4 275,582.2 283,584.4 291,587.7 299,592.4 307,598.6 315,605.9 323,613.8 331,622.0 339,630.3 347,637.9 355,644.5 363,650.0 371,654.2 379,657.1 387,658.8 395,659.6 403,659.4 411,658.6 419,657.3 427,656.1 435,655.1 443,654.2 451,653.2 459,652.9 467,653.3 475,654.6 483,656.7 491,659.2 499,661.4 507,662.8 515,663.3 523,663.3 531,662.3 539,660.4 547,657.8 555,654.7 563,651.1 571,647.4 579,644.3 587,642.1 595,640.6 603,639.8 611,639.5 619,639.6 627,640.3 635,641.3 643,642.4 651,643.7 659,644.9 667,645.2 675,644.7 683,643.8 691,641.8 699,638.6 707,634.7 715,630.4 723,625.7 731,620.9 739,617.0 747,614.0 755,611.8 763,610.4 771,610.1 779,610.6 787,611.7 795,613.5 803,615.2 811,616.5 819,617.0 827,617.3 835,617.5 843,617.5 851,617.2 859,617.0 867,616.7 875,616.9 883,617.6 891,618.8 899,620.0 907,621.0 915,622.2 923,623.8 931,625.2 939,626.6 947,627.4 955,628.2 963,628.8 971,629.4 979,630.0 987,630.7 995,630.9 1003,630.8 1011,630.7 1019,630.3 1027,629.2 1035,627.7 1043,626.1 1051,624.4 1059,622.6 1067,621.3 1075,620.1 1083,618.6 1091,617.6 1099,617.2 1107,617.1 1115,617.4" fill="none" stroke="#FF0000" stroke-width="1" stroke-dasharray="3,3" shape-rendering="crispEdges"/><text x="7" y="585" font-size="10.2" fill="#000" textLength="147.5" lengthAdjust="spacingAndGlyphs" >MACD(12,26,9) 0.002365 0.002661</text><text x="1422" y="583" font-size="9.6" fill="#000" textLength="38" lengthAdjust="spacingAndGlyphs" >0.010229</text><text x="1422" y="635" font-size="9.6" fill="#000" textLength="18.5" lengthAdjust="spacingAndGlyphs" >0.00</text><text x="1422" y="672.5" font-size="9.6" fill="#000" textLength="41" lengthAdjust="spacingAndGlyphs" >-0.007477</text><rect x="1419" y="632" width="2" height="1" fill="#000" /><polyline points="3,735.1 11,732.5 19,728.2 27,731.6 35,731.6 43,729.8 51,734.2 59,744.7 67,737.2 75,726.5 83,724.1 91,738.7 99,734.3 107,728.6 115,731.1 123,734.8 131,734.7 139,732.4 147,731.1 155,728.5 163,724.5 171,722.8 179,720.7 187,713.9 195,713.7 203,715.0 211,715.5 219,718.1 227,713.9 235,712.5 243,716.1 251,716.3 259,716.1 267,715.5 275,745.3 283,755.5 291,757.9 299,764.5 307,768.6 315,770.8 323,766.3 331,761.1 339,761.3 347,759.7 355,761.6 363,761.8 371,757.2 379,758.7 387,757.2 395,752.8 403,742.3 411,744.7 419,743.2 427,760.2 435,760.7 443,753.8 451,751.9 459,765.7 467,767.0 475,770.0 483,768.0 491,764.8 499,763.0 507,747.8 515,736.3 523,741.9 531,740.8 539,737.7 547,747.1 555,743.3 563,739.0 571,744.9 579,746.0 587,746.8 595,749.8 603,754.5 611,746.3 619,756.1 627,756.7 635,749.1 643,751.5 651,753.6 659,750.6 667,734.3 675,736.2 683,733.5 691,729.2 699,722.1 707,722.0 715,727.2 723,726.2 731,730.8 739,736.1 747,743.8 755,740.7 763,738.4 771,739.1 779,739.3 787,741.8 795,747.1 803,735.7 811,730.6 819,729.4 827,734.8 835,737.0 843,732.7 851,731.4 859,743.3 867,743.6 875,749.0 883,744.1 891,744.0 899,740.7 907,736.9 915,740.4 923,749.6 931,746.7 939,748.8 947,738.9 955,746.0 963,745.8 971,740.1 979,742.2 987,743.2 995,739.9 1003,738.3 1011,745.2 1019,731.7 1027,724.6 1035,727.6 1043,731.2 1051,730.9 1059,732.4 1067,744.3 1075,736.9 1083,732.8 1091,739.3 1099,734.1 1107,738.1 1115,740.0" fill="none" stroke="#1E90FF" stroke-width="1" shape-rendering="crispEdges"/><text x="7" y="691" font-size="10.2" fill="#000" textLength="67.5" lengthAdjust="spacingAndGlyphs" >RSI(14) 53.0023</text><line x1="4" y1="718.5" x2="1418" y2="718.5" stroke="#C0C0C0" stroke-width="1" stroke-dasharray="3,3"/><line x1="4" y1="769.5" x2="1418" y2="769.5" stroke="#C0C0C0" stroke-width="1" stroke-dasharray="3,3"/><text x="1422" y="689.5" font-size="9.6" fill="#000" textLength="15" lengthAdjust="spacingAndGlyphs" >100</text><text x="1422" y="722.5" font-size="9.6" fill="#000" textLength="10" lengthAdjust="spacingAndGlyphs" >70</text><text x="1422" y="773.0" font-size="9.6" fill="#000" textLength="10" lengthAdjust="spacingAndGlyphs" >30</text><text x="1422" y="805.0" font-size="9.6" fill="#000" textLength="5" lengthAdjust="spacingAndGlyphs" >0</text><rect x="3" y="809" width="1" height="3" fill="#000" /><text x="1.7" y="821" font-size="10" fill="#000" textLength="53.8" lengthAdjust="spacingAndGlyphs" >25 Nov 2018</text><rect x="67" y="809" width="1" height="3" fill="#000" /><text x="65.7" y="821" font-size="10" fill="#000" textLength="46.7" lengthAdjust="spacingAndGlyphs" >4 Dec 2018</text><rect x="131" y="809" width="1" height="3" fill="#000" /><text x="129.7" y="821" font-size="10" fill="#000" textLength="51.2" lengthAdjust="spacingAndGlyphs" >13 Dec 2018</text><rect x="195" y="809" width="1" height="3" fill="#000" /><text x="193.7" y="821" font-size="10" fill="#000" textLength="51.2" lengthAdjust="spacingAndGlyphs" >23 Dec 2018</text><rect x="259" y="809" width="1" height="3" fill="#000" /><text x="257.7" y="821" font-size="10" fill="#000" textLength="45" lengthAdjust="spacingAndGlyphs" >1 Jan 2019</text><rect x="323" y="809" width="1" height="3" fill="#000" /><text x="321.7" y="821" font-size="10" fill="#000" textLength="49.7" lengthAdjust="spacingAndGlyphs" >10 Jan 2019</text><rect x="387" y="809" width="1" height="3" fill="#000" /><text x="385.7" y="821" font-size="10" fill="#000" textLength="50" lengthAdjust="spacingAndGlyphs" >20 Jan 2019</text><rect x="451" y="809" width="1" height="3" fill="#000" /><text x="449.7" y="821" font-size="10" fill="#000" textLength="49.7" lengthAdjust="spacingAndGlyphs" >29 Jan 2019</text><rect x="515" y="809" width="1" height="3" fill="#000" /><text x="513.7" y="821" font-size="10" fill="#000" textLength="46.7" lengthAdjust="spacingAndGlyphs" >7 Feb 2019</text><rect x="579" y="809" width="1" height="3" fill="#000" /><text x="577.7" y="821" font-size="10" fill="#000" textLength="51.3" lengthAdjust="spacingAndGlyphs" >17 Feb 2019</text><rect x="643" y="809" width="1" height="3" fill="#000" /><text x="641.7" y="821" font-size="10" fill="#000" textLength="51.3" lengthAdjust="spacingAndGlyphs" >26 Feb 2019</text><rect x="707" y="809" width="1" height="3" fill="#000" /><text x="705.7" y="821" font-size="10" fill="#000" textLength="46.7" lengthAdjust="spacingAndGlyphs" >7 Mar 2019</text><rect x="771" y="809" width="1" height="3" fill="#000" /><text x="769.7" y="821" font-size="10" fill="#000" textLength="51.3" lengthAdjust="spacingAndGlyphs" >17 Mar 2019</text><rect x="835" y="809" width="1" height="3" fill="#000" /><text x="833.7" y="821" font-size="10" fill="#000" textLength="51.3" lengthAdjust="spacingAndGlyphs" >26 Mar 2019</text><rect x="899" y="809" width="1" height="3" fill="#000" /><text x="897.7" y="821" font-size="10" fill="#000" textLength="45.9" lengthAdjust="spacingAndGlyphs" >4 Apr 2019</text><rect x="963" y="809" width="1" height="3" fill="#000" /><text x="961.7" y="821" font-size="10" fill="#000" textLength="50.5" lengthAdjust="spacingAndGlyphs" >14 Apr 2019</text><rect x="1027" y="809" width="1" height="3" fill="#000" /><text x="1025.7" y="821" font-size="10" fill="#000" textLength="50.5" lengthAdjust="spacingAndGlyphs" >24 Apr 2019</text><rect x="1091" y="809" width="1" height="3" fill="#000" /><text x="1089.7" y="821" font-size="10" fill="#000" textLength="50" lengthAdjust="spacingAndGlyphs" >3 May 2019</text><rect x="0" y="831" width="329" height="1" fill="#000" /><rect x="435" y="831" width="1031" height="1" fill="#000" /><rect x="0" y="851" width="1466" height="1" fill="#FFFFFF" /><rect x="0" y="852" width="1466" height="3" fill="#EEEEEE" /><rect x="0" y="855" width="1466" height="1" fill="#A0A0A0" /><rect x="0" y="856" width="1466" height="2" fill="#FFFFFF" /><rect x="329" y="831" width="106" height="18" fill="#FFFFFF" /><rect x="328" y="831" width="1" height="19" fill="#000" /><rect x="435" y="831" width="1" height="19" fill="#000" /><rect x="328" y="849" width="108" height="1" fill="#000" /><text x="15" y="846" font-size="12.5" fill="#6D6D6D" textLength="84.5" lengthAdjust="spacingAndGlyphs" >EURUSD-,Daily</text><text x="122" y="846" font-size="12.5" fill="#6D6D6D" textLength="86.5" lengthAdjust="spacingAndGlyphs" >AUDUSD-,Daily</text><text x="232" y="846" font-size="12.5" fill="#6D6D6D" textLength="84" lengthAdjust="spacingAndGlyphs" >USDCHF-,Daily</text><text x="448.5" y="846" font-size="12.5" fill="#6D6D6D" textLength="87.5" lengthAdjust="spacingAndGlyphs" >USDCNH-,Daily</text><text x="559" y="846" font-size="12.5" fill="#6D6D6D" textLength="97" lengthAdjust="spacingAndGlyphs" >EURCHF-,Weekly</text><text x="339.5" y="846" font-size="12.5" fill="#000" textLength="85.5" lengthAdjust="spacingAndGlyphs" >USDCAD-,Daily</text><rect x="112" y="835" width="1" height="13" fill="#6D6D6D" /><rect x="220" y="835" width="1" height="13" fill="#6D6D6D" /><rect x="548" y="835" width="1" height="13" fill="#6D6D6D" /><rect x="668" y="835" width="1" height="13" fill="#6D6D6D" /><polygon points="1433.5,840 1437.5,836.5 1437.5,843.5" fill="#A0A0A0"/><polygon points="1456.5,840 1452.5,836.5 1452.5,843.5" fill="#A0A0A0"/></svg></body></html>
